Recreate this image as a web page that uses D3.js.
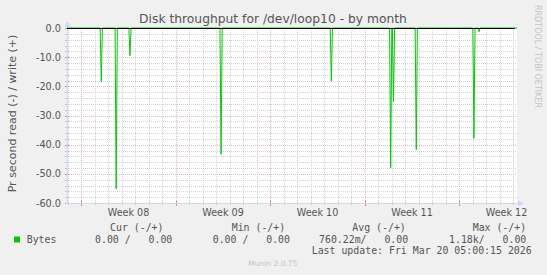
<!DOCTYPE html>
<html>
<head>
<meta charset="utf-8">
<script src="https://cdn.jsdelivr.net/npm/d3@7"></script>
<style>
  html, body { margin: 0; padding: 0; background: #F0F0F0; }
  svg { display: block; }
  text { font-family: "DejaVu Sans", sans-serif; }
  .mono { font-family: "DejaVu Sans Mono", monospace; }
</style>
</head>
<body>
<script>
// ---- data ----
const title = "Disk throughput for /dev/loop10 - by month";
const yLabel = "Pr second read (-) / write (+)";
const timeDomain = ["2026-02-14T22:34Z", "2026-03-20T06:34Z"];
const spikeTimes = [
  "2026-02-17T11:30Z", "2026-02-18T14:00Z", "2026-02-19T14:30Z",
  "2026-02-26T08:30Z", "2026-03-06T12:30Z", "2026-03-10T22:00Z",
  "2026-03-11T03:00Z", "2026-03-12T19:30Z", "2026-03-17T02:00Z",
  "2026-03-17T11:00Z"
];
const readValues = [-18.4, -55.1, -9.5, -43.3, -18.2, -47.9, -25.2, -41.7, -37.8, -1.3];
const yTicks = [0, -10, -20, -30, -40, -50, -60];
const weekStarts = ["2026-02-16T00:00Z", "2026-02-23T00:00Z", "2026-03-02T00:00Z", "2026-03-09T00:00Z", "2026-03-16T00:00Z"];
const weekLabels = ["Week 08", "Week 09", "Week 10", "Week 11", "Week 12"];
const legendHeaders = ["Cur (-/+)", "Min (-/+)", "Avg (-/+)", "Max (-/+)"];
const legendName = "Bytes";
const legendValues = ["0.00 /   0.00", "0.00 /   0.00", "760.22m/   0.00", "1.18k/   0.00"];
const lastUpdate = "Last update: Fri Mar 20 05:00:15 2026";
const version = "Munin 2.0.75";
const watermark = "RRDTOOL / TOBI OETIKER";

// ---- layout ----
const W = 547, H = 275;
const L = 67, R = 517, T = 28, B = 203;
const green = "#00CC00";
const fontCol = "#555555";

const svg = d3.select("body").append("svg").attr("width", W).attr("height", H);
svg.append("rect").attr("width", W).attr("height", H).attr("fill", "#F0F0F0");

const x = d3.scaleUtc().domain(timeDomain.map(d => new Date(d))).range([L, R]);
const y = d3.scaleLinear().domain([-60, 0]).range([B, T]);
const fmt = d3.formatLocale({decimal: ".", thousands: ",", grouping: [3], currency: ["", ""], minus: "-"}).format(".1f");

// canvas
svg.append("rect").attr("x", L).attr("y", T).attr("width", R - L).attr("height", B - T).attr("fill", "#FFFFFF");

// minor grid
const days = x.ticks(d3.utcDay.every(1));
const gMinor = svg.append("g").attr("stroke", "#d4d4d4").attr("stroke-width", 1).attr("stroke-dasharray", "1,1").attr("shape-rendering", "crispEdges");
gMinor.selectAll("line.v").data(days.filter(d => d.getUTCDay() !== 1)).join("line")
  .attr("x1", d => Math.round(x(d)) + 0.5).attr("x2", d => Math.round(x(d)) + 0.5)
  .attr("y1", T).attr("y2", B);
gMinor.selectAll("line.h").data(d3.range(-58, 0, 2).filter(v => v % 10 !== 0)).join("line")
  .attr("y1", d => Math.round(y(d)) + 0.5).attr("y2", d => Math.round(y(d)) + 0.5)
  .attr("x1", L).attr("x2", R);

// major grid
const mondays = weekStarts.map(d => new Date(d));
const gMajor = svg.append("g").attr("stroke", "#f2b4b4").attr("stroke-width", 1).attr("stroke-dasharray", "1,1").attr("shape-rendering", "crispEdges");
gMajor.selectAll("line.v").data(mondays).join("line")
  .attr("x1", d => Math.round(x(d)) + 0.5).attr("x2", d => Math.round(x(d)) + 0.5)
  .attr("y1", T).attr("y2", B);
gMajor.selectAll("line.h").data(yTicks.filter(v => v !== 0 && v !== -60)).join("line")
  .attr("y1", d => Math.round(y(d)) + 0.5).attr("y2", d => Math.round(y(d)) + 0.5)
  .attr("x1", L).attr("x2", R);

// axis ticks
const gTicks = svg.append("g").attr("shape-rendering", "crispEdges");
gTicks.selectAll("line.mt").data(days).join("line")
  .attr("x1", d => Math.round(x(d)) + 0.5).attr("x2", d => Math.round(x(d)) + 0.5)
  .attr("y1", B - 1).attr("y2", B + 2).attr("stroke", "#c8c8c8");
gTicks.selectAll("line.Mt").data(mondays).join("line")
  .attr("x1", d => Math.round(x(d)) + 0.5).attr("x2", d => Math.round(x(d)) + 0.5)
  .attr("y1", B - 2).attr("y2", B + 3).attr("stroke", "#ec8080");
gTicks.selectAll("line.yt").data(d3.range(-60, 1, 2)).join("line")
  .attr("y1", d => Math.round(y(d)) + 0.5).attr("y2", d => Math.round(y(d)) + 0.5)
  .attr("x1", L - 2).attr("x2", L + 2).attr("stroke", d => d % 10 === 0 ? "#ec8080" : "#c8c8c8");

// axes
const axisCol = "#CFD6F8";
svg.append("line").attr("x1", L + 0.5).attr("x2", L + 0.5).attr("y1", 24).attr("y2", B + 1).attr("stroke", axisCol).attr("shape-rendering", "crispEdges");
svg.append("line").attr("x1", L - 1).attr("x2", 520).attr("y1", B + 0.5).attr("y2", B + 0.5).attr("stroke", axisCol).attr("shape-rendering", "crispEdges");
svg.append("path").attr("d", `M${L - 2.5},${27} L${L + 3.5},${27} L${L + 0.5},${21} Z`).attr("fill", axisCol);
svg.append("path").attr("d", `M${518},${B - 2.5} L${518},${B + 3.5} L${524},${B + 0.5} Z`).attr("fill", axisCol);

// read series (negative), drawn as a line through the data points
const twoH = 2 * 3600 * 1000;
const pts = [[new Date(timeDomain[0]), 0]];
spikeTimes.forEach((t, i) => {
  const d = new Date(t);
  pts.push([new Date(+d - twoH), 0], [d, readValues[i]], [new Date(+d + twoH), 0]);
});
pts.push([new Date(timeDomain[1]), 0]);
const line = d3.line().x(d => x(d[0])).y(d => y(d[1]));
svg.append("path").attr("d", line(pts)).attr("fill", "none").attr("stroke", green).attr("stroke-width", 1);

// zero line
svg.append("line").attr("x1", L).attr("x2", 515).attr("y1", y(0) + 0.5).attr("y2", y(0) + 0.5)
  .attr("stroke", "#000").attr("stroke-width", 1).attr("shape-rendering", "crispEdges");

// y tick labels
svg.append("g").selectAll("text").data(yTicks).join("text")
  .attr("x", 61).attr("y", d => y(d) + 3.5).attr("text-anchor", "end")
  .attr("font-size", 9.7).attr("fill", fontCol).text(d => fmt(d));

// week labels
svg.append("g").selectAll("text").data(mondays).join("text")
  .attr("x", d => x(d3.utcHour.offset(d, 84))).attr("y", 215.5).attr("text-anchor", "middle")
  .attr("font-size", 9.6).attr("fill", fontCol).text((d, i) => weekLabels[i]);

// title
svg.append("text").attr("x", 273).attr("y", 22.5).attr("text-anchor", "middle")
  .attr("font-size", 12.3).attr("fill", fontCol).text(title);

// y label
svg.append("text").attr("transform", `translate(16,113.5) rotate(-90)`)
  .attr("text-anchor", "middle").attr("font-size", 11).attr("fill", fontCol).text(yLabel);

// watermark
svg.append("text").attr("transform", "translate(534.5,5) rotate(90)")
  .attr("font-size", 8).attr("fill", "#c4c4c4").text(watermark);

// legend
const hdrX = [110, 231.7, 352.3, 472.7];
const valX = [95, 212.7, 319, 449];
svg.append("g").selectAll("text").data(legendHeaders).join("text")
  .attr("class", "mono").attr("x", (d, i) => hdrX[i]).attr("y", 230.5)
  .attr("font-size", 9.9).attr("fill", fontCol).style("white-space", "pre").text(d => d);
svg.append("rect").attr("x", 14).attr("y", 236.5).attr("width", 6).attr("height", 6).attr("fill", green);
svg.append("text").attr("class", "mono").attr("x", 26.7).attr("y", 242.5)
  .attr("font-size", 9.9).attr("fill", fontCol).text(legendName);
svg.append("g").selectAll("text").data(legendValues).join("text")
  .attr("class", "mono").attr("x", (d, i) => valX[i]).attr("y", 242.5)
  .attr("font-size", 9.9).attr("fill", fontCol).style("white-space", "pre").text(d => d);
svg.append("text").attr("class", "mono").attr("x", 311.7).attr("y", 254.3)
  .attr("font-size", 9.9).attr("fill", fontCol).style("white-space", "pre").text(lastUpdate);

// version
svg.append("text").attr("x", 248.3).attr("y", 266).attr("font-size", 7.5).attr("fill", "#c4c4c4").text(version);
</script>
</body>
</html>
